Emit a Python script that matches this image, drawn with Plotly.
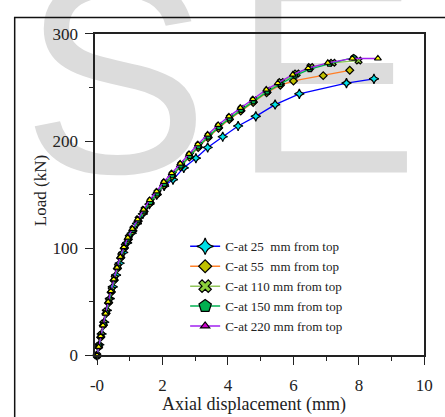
import plotly.graph_objects as go

W, H = 445, 417

# ---------------- data ----------------
x25 = [0, 0.07, 0.14, 0.22, 0.3, 0.39, 0.48, 0.58, 0.69, 0.8, 0.92, 1.06, 1.22, 1.4, 1.6, 1.82,
       2.05, 2.32, 2.65, 3.02, 3.38, 3.84, 4.31, 4.85, 5.44, 6.18, 7.62, 8.46]
y25 = [0, 10, 20, 31, 42, 53, 64, 75, 86, 96, 105, 114, 123, 132, 141, 150,
       158, 164, 175, 184, 194, 204, 214, 223, 234, 244, 254, 258]

x55 = [0, 0.05, 0.11, 0.19, 0.27, 0.35, 0.43, 0.52, 0.62, 0.72, 0.83, 0.95, 1.09, 1.25, 1.43, 1.62,
       1.83, 2.05, 2.29, 2.55, 2.82, 3.09, 3.39, 3.71, 4.04, 4.39, 4.77, 5.18, 5.6, 6.0, 6.91, 7.72]
y55 = [0, 8, 17, 28, 39, 49, 59, 70, 81, 91, 100, 108, 116, 125, 134, 142,
       150, 159, 167, 176, 185, 194, 203, 212, 220, 228, 236, 245, 252, 256, 261, 266]

x110 = [0, 0.06, 0.13, 0.21, 0.29, 0.37, 0.45, 0.54, 0.64, 0.74, 0.85, 0.97, 1.11, 1.27, 1.45, 1.64,
        1.85, 2.07, 2.31, 2.57, 2.84, 3.11, 3.41, 3.73, 4.06, 4.41, 4.79, 5.21, 5.62, 6.1, 6.52, 7.2, 7.99]
y110 = [0, 9, 19, 30, 41, 51, 61, 72, 83, 93, 102, 110, 118, 127, 136, 144,
        152, 161, 169, 178, 187, 196, 205, 214, 222, 230, 238, 247, 255, 263, 269, 273, 275]

x150 = [0, 0.06, 0.12, 0.2, 0.28, 0.36, 0.44, 0.53, 0.63, 0.73, 0.84, 0.96, 1.1, 1.26, 1.44, 1.63,
        1.84, 2.06, 2.3, 2.56, 2.83, 3.1, 3.4, 3.72, 4.05, 4.4, 4.78, 5.2, 5.6, 6.05, 6.5, 7.1, 7.84]
y150 = [0, 9, 18, 29, 40, 50, 60, 71, 82, 92, 101, 109, 117, 126, 135, 143,
        151, 160, 168, 177, 186, 195, 204, 213, 221, 229, 237, 246, 253, 261, 267, 272, 278]

x220 = [0, 0.05, 0.11, 0.18, 0.26, 0.34, 0.42, 0.51, 0.61, 0.71, 0.82, 0.94, 1.08, 1.24, 1.42, 1.61,
        1.82, 2.04, 2.28, 2.54, 2.81, 3.08, 3.38, 3.7, 4.03, 4.38, 4.76, 5.17, 5.52, 5.98, 6.45, 7.05, 7.8, 8.58]
y220 = [0, 8, 18, 28, 39, 50, 60, 71, 82, 92, 101, 110, 118, 127, 136, 145,
        153, 162, 170, 179, 188, 197, 206, 215, 223, 231, 239, 248, 254, 262, 268, 273, 277, 277]

names = ["C-at 25  mm from top", "C-at 55  mm from top", "C-at 110 mm from top",
         "C-at 150 mm from top", "C-at 220 mm from top"]

x_ticks = [0, 2, 4, 6, 8, 10]
x_ticktext = ["-0", "2", "4", "6", "8", "10"]
y_ticks = [0, 100, 200, 300]

watermark_letters = ["J", "S", "E"]
watermark_x = [-12, 114, 331]   # pixel positions of letter centres
watermark_y = [98, 98, 98]

# ---------------- style ----------------
SERIF = "Liberation Serif, Times New Roman, serif"
TXT = "#222222"
line_cols = ["#0000ff", "#ff7f27", "#8fc45a", "#00b050", "#a020f0"]
mk_syms = ["star-diamond", "diamond", "x", "pentagon", "triangle-up"]
mk_fill_plot = ["#00e0e8", "#c0c000", "#8ccf3c", "#00b050", "#ffff00"]
mk_fill_leg = ["#00e0e8", "#c0c000", "#8ccf3c", "#00b050", "#cc00cc"]
mk_size_plot = [7, 6, 6, 6, 6]
mk_size_leg = [12, 10, 11, 13, 8]

fig = go.Figure()

# watermark (below everything) on a hidden full-page axis
fig.add_trace(go.Scatter(
    x=watermark_x, y=watermark_y, text=watermark_letters, mode="text",
    textposition="middle center", cliponaxis=False, showlegend=False, hoverinfo="skip",
    textfont=dict(family="Liberation Sans, Arial, sans-serif", size=280, color="#dcdcdc"),
    xaxis="x", yaxis="y"))

series = [(x25, y25), (x55, y55), (x110, y110), (x150, y150), (x220, y220)]
for i, (xs, ys) in enumerate(series):
    fig.add_trace(go.Scatter(
        x=xs, y=ys, mode="lines+markers", showlegend=False, cliponaxis=False,
        line=dict(color=line_cols[i], width=1.3),
        marker=dict(symbol=mk_syms[i], size=mk_size_plot[i], color=mk_fill_plot[i],
                    line=dict(color="#000000", width=1.2)),
        xaxis="x2", yaxis="y2"))

for i in range(5):
    fig.add_trace(go.Scatter(
        x=[None], y=[None], mode="lines+markers", name=names[i],
        line=dict(color=line_cols[i], width=1.5),
        marker=dict(symbol=mk_syms[i], size=mk_size_leg[i], color=mk_fill_leg[i],
                    line=dict(color="#000000", width=1.2)),
        xaxis="x2", yaxis="y2"))

x0p, x1p = 93 / W, 433 / W
y0p, y1p = 1 - 363 / H, 1 - 26 / H

axis_common = dict(showline=True, linecolor=TXT, linewidth=1.5, mirror=True,
                   ticks="outside", ticklen=8, tickwidth=1.3, tickcolor=TXT,
                   showgrid=False, zeroline=False,
                   tickfont=dict(family=SERIF, size=17, color=TXT))

fig.update_layout(
    width=W, height=H, margin=dict(l=0, r=0, t=0, b=0),
    paper_bgcolor="white", plot_bgcolor="rgba(0,0,0,0)",
    xaxis=dict(domain=[0, 1], range=[0, W], visible=False, fixedrange=True),
    yaxis=dict(domain=[0, 1], range=[H, 0], visible=False, fixedrange=True),
    xaxis2=dict(domain=[x0p, x1p], range=[-0.06, 10], anchor="y2",
                tickvals=x_ticks, ticktext=x_ticktext, ticklabelstandoff=5,
                minor=dict(dtick=1, tick0=0, ticks="outside", ticklen=4, tickcolor=TXT, tickwidth=1.2),
                **axis_common),
    yaxis2=dict(domain=[y0p, y1p], range=[0, 300], anchor="x2",
                tickvals=y_ticks, ticklabelstandoff=4,
                minor=dict(dtick=50, tick0=0, ticks="outside", ticklen=4, tickcolor=TXT, tickwidth=1.2),
                **axis_common),
    showlegend=True,
    legend=dict(x=186 / W, y=1 - 233 / H, xanchor="left", yanchor="top",
                bgcolor="rgba(0,0,0,0)", borderwidth=0, tracegroupgap=0,
                font=dict(family=SERIF, size=13, color=TXT)),
    shapes=[dict(type="rect", xref="paper", yref="paper",
                 x0=10 / W, x1=1.05, y0=-0.05, y1=1 - 9 / H,
                 line=dict(color="#111111", width=1.5), layer="above")],
    annotations=[
        dict(text="Axial displacement (mm)", xref="paper", yref="paper",
             x=257 / W, y=1 - 414 / H, showarrow=False, xanchor="center", yanchor="middle",
             font=dict(family=SERIF, size=18, color=TXT)),
        dict(text="Load (kN)", xref="paper", yref="paper", textangle=-90,
             x=36 / W, y=1 - 190 / H, showarrow=False, xanchor="center", yanchor="middle",
             font=dict(family=SERIF, size=17, color=TXT)),
    ],
)

fig.write_html("out.html")
